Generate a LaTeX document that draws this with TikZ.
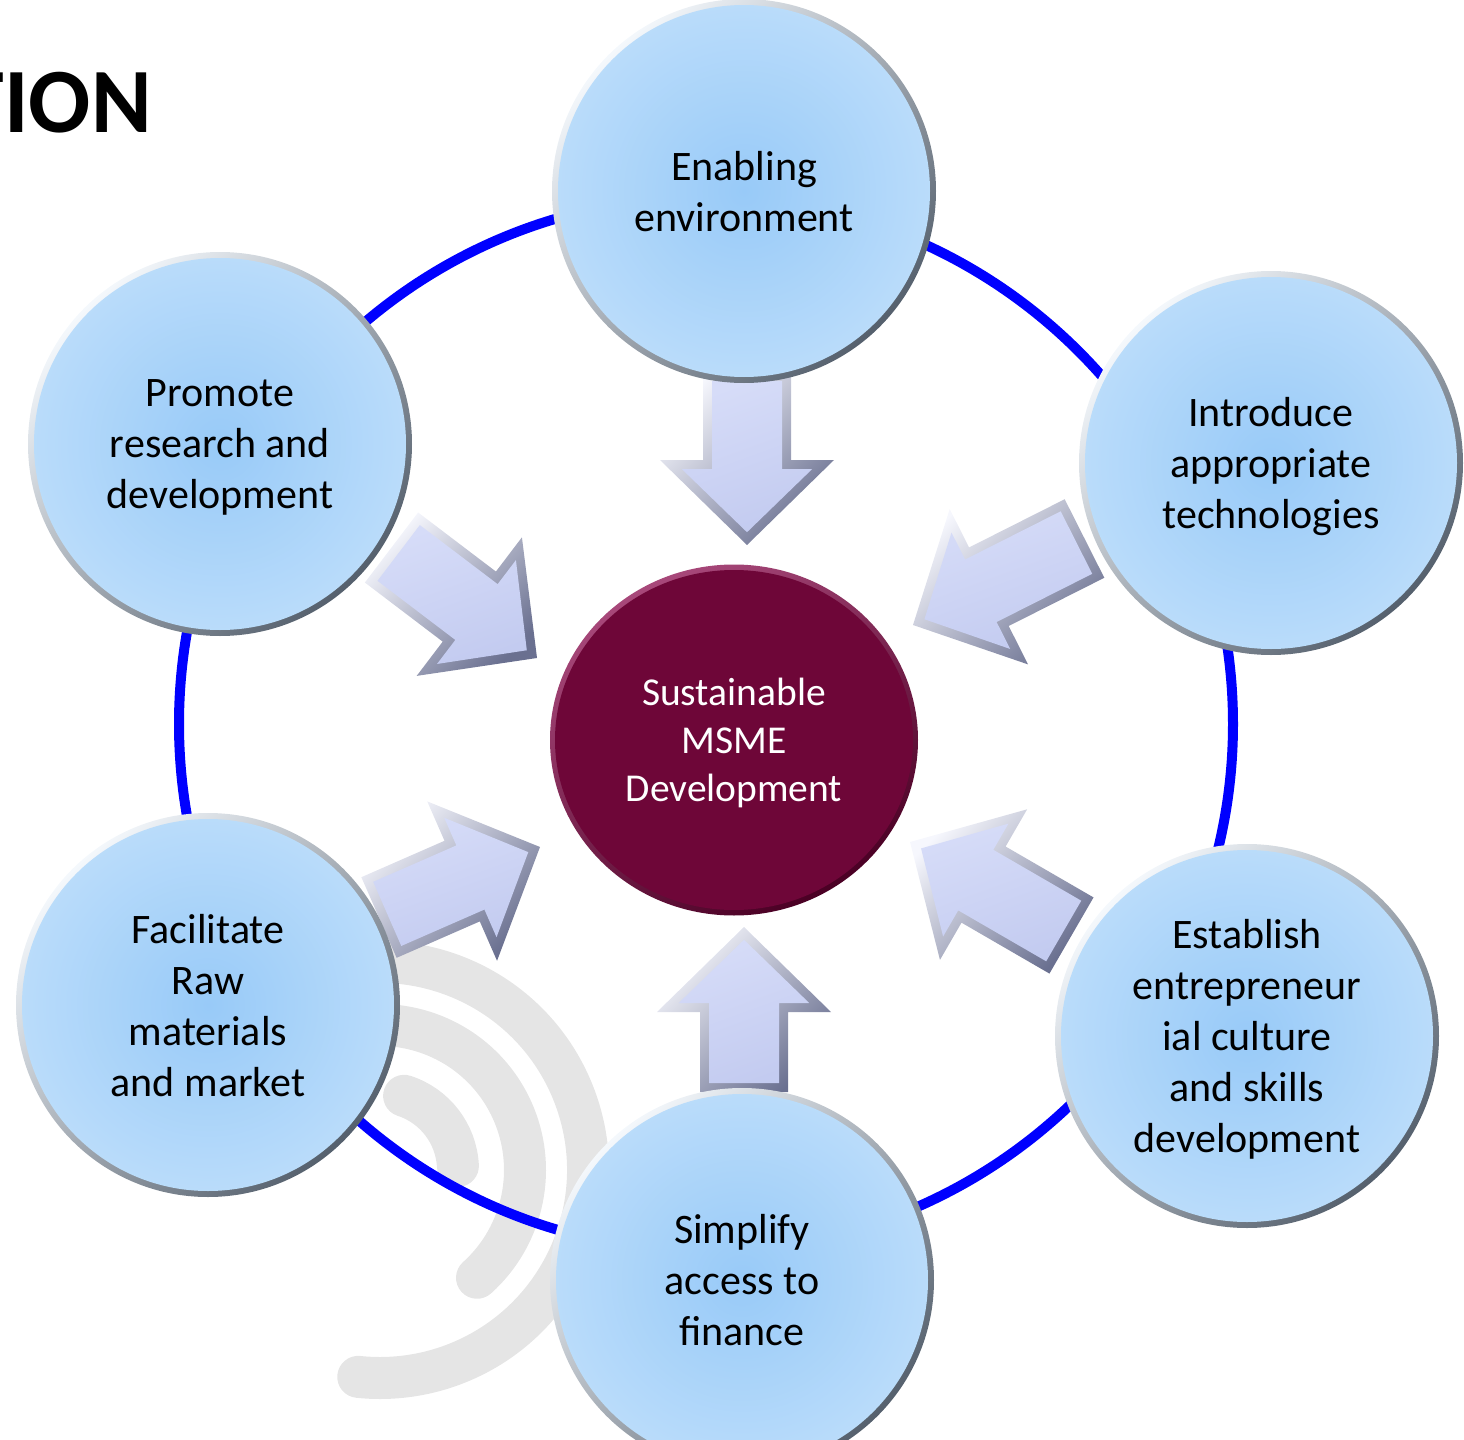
\documentclass[tikz,border=0pt]{standalone}
\usepackage{fontspec}
\setmainfont{Carlito}
\usetikzlibrary{calc,shapes.geometric}

\definecolor{ringblue}{HTML}{0000FF}
\definecolor{wm}{HTML}{E5E5E5}
\definecolor{bubin}{HTML}{98CAF8}
\definecolor{bubmid}{HTML}{B6DAFA}
\definecolor{bubout}{HTML}{D5E9FB}
\definecolor{rimlight}{HTML}{F4F8FC}
\definecolor{rimdark}{HTML}{55606D}
\definecolor{maroonc}{HTML}{6E0638}
\definecolor{maroonlight}{HTML}{A8487A}
\definecolor{maroondark}{HTML}{4A0024}
\definecolor{arrlight}{HTML}{F6F7FD}
\definecolor{arrdark}{HTML}{6A7090}
\definecolor{arrinA}{HTML}{D6DCF8}
\definecolor{arrinB}{HTML}{C3CBF0}

\pgfdeclareradialshading{bubshade}{\pgfpoint{0bp}{0bp}}{color(0bp)=(bubin); color(22bp)=(bubmid); color(42bp)=(bubout); color(50bp)=(bubout)}

\tikzset{
  bubble/.style={circle, minimum size=192pt, inner sep=0pt, text depth=0pt,
    shade, top color=rimlight, bottom color=rimdark, shading angle=45,
    align=center, text=black, font=\fontsize{21}{25.5}\selectfont,
    path picture={\shade[shading=bubshade] (path picture bounding box.center) circle[radius=93pt];}},
  hub/.style={ellipse, minimum width=184pt, minimum height=175.5pt, inner sep=0pt, text depth=0pt,
    shade, top color=maroonlight, bottom color=maroondark, shading angle=30,
    align=center, text=white, font=\fontsize{19.75}{24}\selectfont,
    path picture={\fill[maroonc] (path picture bounding box.center) ellipse[x radius=89.5pt, y radius=85pt];}},
  ringline/.style={draw=ringblue, line width=5pt},
  wmarc/.style={draw=wm, line width=21pt, line cap=round},
  arrowrim/.style={shade, top color=arrlight, bottom color=arrdark, shading angle=45},
  arrowface/.style={shade, top color=arrinA, bottom color=arrinB, shading angle=20},
  titletext/.style={font=\fontsize{46}{50}\selectfont\bfseries, inner sep=0pt, text=black}
}

% block arrow from tail #2 to tip #3, id #1
\newcommand{\blockarrow}[3]{%
  \coordinate (#1hb) at ($(#3)!42.5pt!(#2)$);
  \coordinate (#1it) at ($(#2)!4.5pt!(#3)$);
  \coordinate (#1ip) at ($(#3)!6.4pt!(#2)$);
  \coordinate (#1ih) at ($(#3)!38pt!(#2)$);
  \path[arrowrim] ($(#2)!22pt!90:(#3)$) -- ($(#1hb)!22pt!90:(#3)$) -- ($(#1hb)!43.5pt!90:(#3)$) -- (#3)
     -- ($(#1hb)!43.5pt!-90:(#3)$) -- ($(#1hb)!22pt!-90:(#3)$) -- ($(#2)!22pt!-90:(#3)$) -- cycle;
  \path[arrowface] ($(#1it)!17.5pt!90:(#3)$) -- ($(#1ih)!17.5pt!90:(#3)$) -- ($(#1ih)!32.6pt!90:(#3)$) -- (#1ip)
     -- ($(#1ih)!32.6pt!-90:(#3)$) -- ($(#1ih)!17.5pt!-90:(#3)$) -- ($(#1it)!17.5pt!-90:(#3)$) -- cycle;
}

\begin{document}
\begin{tikzpicture}[x=0.5pt, y=-0.5pt]
\useasboundingbox (0,0) rectangle (1464,1440);
\clip (0,0) rectangle (1464,1440);

% title fragment
\node[titletext, anchor=base east] (title) at (152,132) {TION};

% watermark arcs
\coordinate (wmc) at (380,1170);
\draw[wmarc] ($(wmc)+(-112:208)$) arc[start angle=-112, end angle=96, radius=208];
\draw[wmarc] ($(wmc)+(-115:145)$) arc[start angle=-115, end angle=48, radius=145];
\draw[wmarc] ($(wmc)+(-72:78)$) arc[start angle=-72, end angle=-3, radius=78];

% blue ring
\coordinate (ringc) at (706,724);
\draw[ringline] (ringc) circle[radius=527];

% arrow end points
\coordinate (t1) at (747,372);   \coordinate (p1) at (747,545);
\coordinate (t2) at (391.5,547.5); \coordinate (p2) at (537,658);
\coordinate (t3) at (1084.5,538.5); \coordinate (p3) at (913,625);
\coordinate (t4) at (379,917.5); \coordinate (p4) at (540,847);
\coordinate (t5) at (1071.5,935.5); \coordinate (p5) at (910,842);
\coordinate (t6) at (744,1092);  \coordinate (p6) at (744,927);

\blockarrow{a}{t1}{p1}
\blockarrow{b}{t2}{p2}
\blockarrow{c}{t3}{p3}
\blockarrow{d}{t4}{p4}
\blockarrow{e}{t5}{p5}
\blockarrow{f}{t6}{p6}

% circles
\node[bubble] (enable) at (744,191) {Enabling\\environment};
\node[bubble] (promote) at (220,444) {Promote\\research and\\development};
\node[bubble] (intro) at (1271,463) {Introduce\\appropriate\\technologies};
\node[bubble] (facil) at (208,1005) {Facilitate\\Raw\\materials\\and market};
\node[bubble] (estab) at (1247,1036) {Establish\\entrepreneur\\ial culture\\and skills\\development};
\node[bubble] (simpl) at (742,1280) {Simplify\\access to\\finance};
\node[hub] (msme) at (734,740) {Sustainable\\MSME\\Development};
\end{tikzpicture}
\end{document}
